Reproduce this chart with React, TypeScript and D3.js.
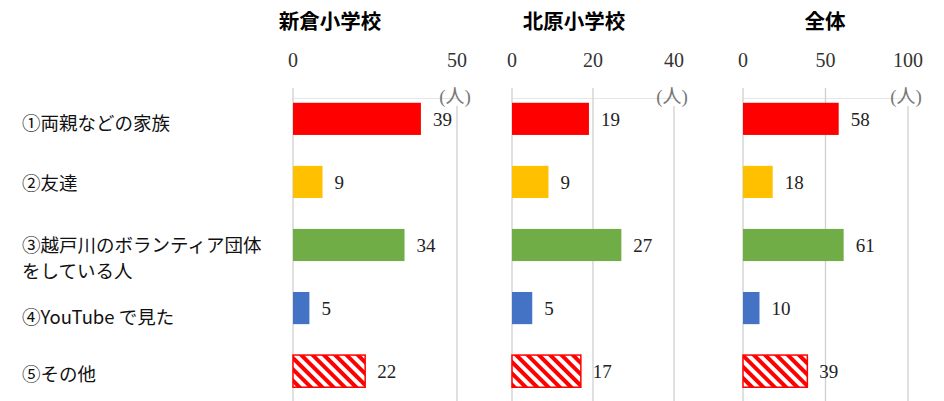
import React from "react";
import * as d3 from "d3";

// categories (row labels; "\n" splits a label over two lines)
const categories = [
  "①両親などの家族",
  "②友達",
  "③越戸川のボランティア団体\nをしている人",
  "④YouTube で見た",
  "⑤その他",
];

// series values per panel
const niikura = [39, 9, 34, 5, 22];
const kitahara = [19, 9, 27, 5, 17];
const total = [58, 18, 61, 10, 39];

const panelTitles = ["新倉小学校", "北原小学校", "全体"];
const panelMax = [50, 40, 100];
const panelTicks = [
  [0, 50],
  [0, 20, 40],
  [0, 50, 100],
];
const unitLabel = "(人)";

const barColors = ["#ff0000", "#ffc000", "#70ad47", "#4472c4", "hatch"];

const W = 944;
const H = 401;

const panels = [
  { values: niikura, x0: 293, x1: 457, titleX: 330 },
  { values: kitahara, x0: 512, x1: 674, titleX: 574 },
  { values: total, x0: 743, x1: 908, titleX: 825 },
];

const yScale = d3
  .scaleBand<string>()
  .domain(categories)
  .range([87, 403])
  .paddingInner(0.49)
  .paddingOuter(0.25);

// the row labels don't sit exactly on the bar centres in the original
const labelNudge = [5, 2, 1, 10, 4];

const serif = "'Liberation Serif', 'DejaVu Serif', serif";
const gothic = "'Noto Sans CJK JP', 'Noto Sans', sans-serif";

export default function App() {
  const bw = yScale.bandwidth();
  return (
    <svg
      width={W}
      height={H}
      viewBox={`0 0 ${W} ${H}`}
      style={{ position: "absolute", left: 0, top: 0, background: "#fff" }}
    >
      <defs>
        <pattern
          id="hatch"
          patternUnits="userSpaceOnUse"
          width={8}
          height={8}
          patternTransform="rotate(-45)"
        >
          <rect width={8} height={8} fill="#fff" />
          <rect width={4} height={8} fill="#ff0000" />
        </pattern>
      </defs>

      {/* row labels */}
      {categories.map((c, i) => {
        const cy = yScale(c)! + bw / 2 + labelNudge[i];
        const lines = c.split("\n");
        return (
          <text
            key={c}
            x={22}
            y={cy + 6}
            fontFamily={gothic}
            fontSize={18.5}
            fill="#111"
          >
            {lines.map((l, j) => (
              <tspan key={j} x={22} dy={j === 0 ? 0 : 26}>
                {l}
              </tspan>
            ))}
          </text>
        );
      })}

      {panels.map((p, pi) => {
        const x = d3
          .scaleLinear()
          .domain([0, panelMax[pi]])
          .range([p.x0, p.x1]);
        const ticks = panelTicks[pi];
        return (
          <g key={pi}>
            <text
              x={p.titleX}
              y={29}
              textAnchor="middle"
              fontFamily={gothic}
              fontWeight="bold"
              fontSize={20.5}
              fill="#000"
            >
              {panelTitles[pi]}
            </text>
            {/* faint plot-area top */}
            <line
              x1={x(0)}
              x2={x(panelMax[pi])}
              y1={98.5}
              y2={98.5}
              stroke="#e6e6e6"
              strokeWidth={1}
            />
            {ticks.map((t, ti) => {
              const last = ti === ticks.length - 1;
              return (
                <g key={t}>
                  <line
                    x1={x(t)}
                    x2={x(t)}
                    y1={last ? 106 : 88}
                    y2={H}
                    stroke="#cfcfcf"
                    strokeWidth={1.3}
                  />
                  <text
                    x={x(t)}
                    y={67}
                    textAnchor="middle"
                    fontFamily={serif}
                    fontSize={20}
                    fill="#333"
                  >
                    {t}
                  </text>
                </g>
              );
            })}
            <text
              x={x(panelMax[pi]) - 2}
              y={103}
              textAnchor="middle"
              fontFamily={`${serif.replace(", serif", "")}, 'Noto Sans CJK JP', serif`}
              fontSize={19}
              fill="#777"
            >
              {unitLabel}
            </text>
            {p.values.map((v, i) => {
              const c = categories[i];
              const y = yScale(c)!;
              const col = barColors[i];
              const hatch = col === "hatch";
              return (
                <g key={c}>
                  <rect
                    x={x(0)}
                    y={y}
                    width={x(v) - x(0)}
                    height={bw}
                    fill={hatch ? "url(#hatch)" : col}
                    stroke={hatch ? "#ff0000" : "none"}
                    strokeWidth={hatch ? 1.5 : 0}
                  />
                  <text
                    x={x(v) + 12}
                    y={y + bw / 2 + 7}
                    fontFamily={serif}
                    fontSize={19}
                    fill="#222"
                  >
                    {v}
                  </text>
                </g>
              );
            })}
          </g>
        );
      })}
    </svg>
  );
}
